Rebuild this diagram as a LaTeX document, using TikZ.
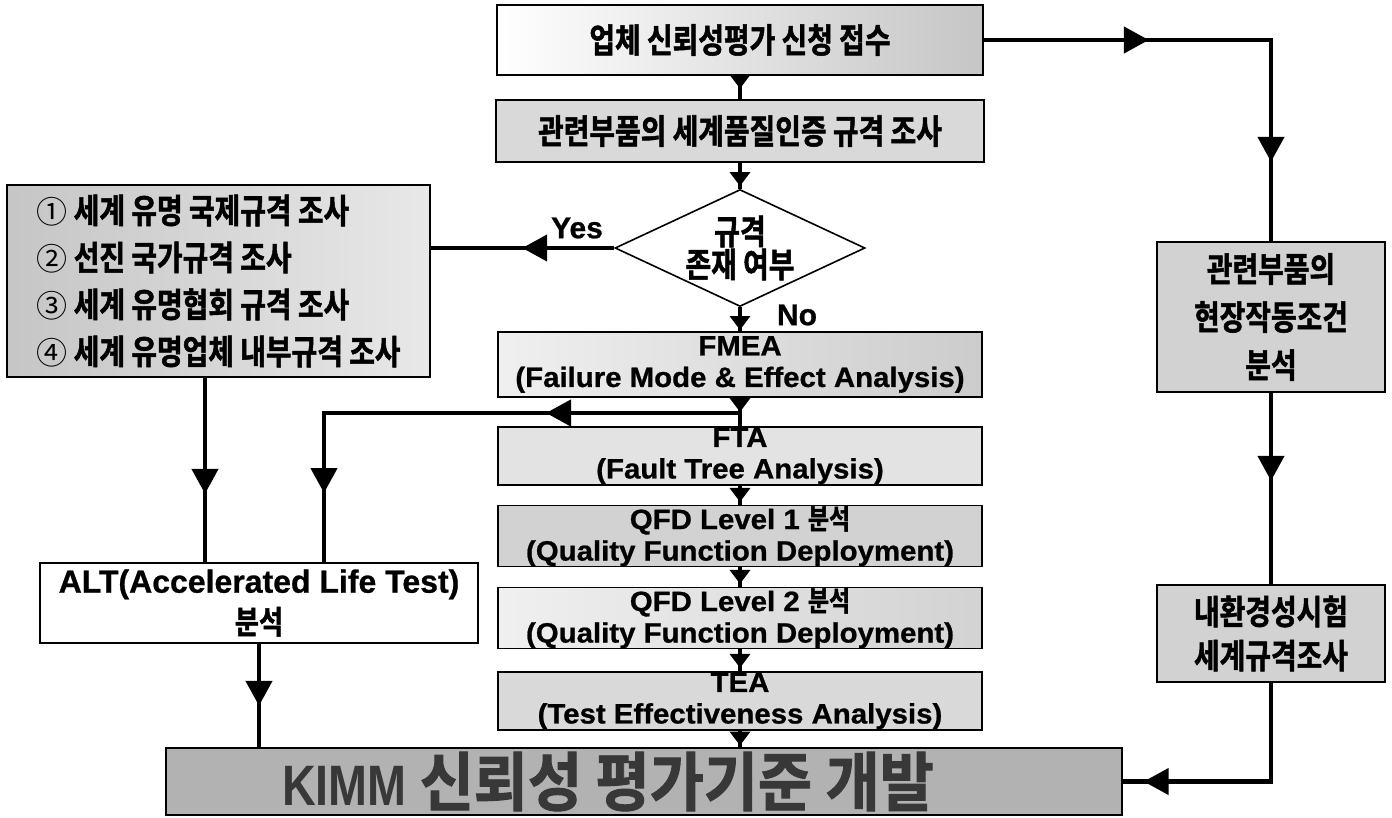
\documentclass[tikz,border=0pt]{standalone}
\usepackage{fontspec}
\setmainfont{Liberation Sans}[BoldFeatures={FakeBold=0.8}]
\newfontfamily\enbox{Liberation Sans}[FakeStretch=1.05,BoldFeatures={FakeBold=0.8}]
\newfontfamily\kr{Noto Sans CJK KR Bold}[FakeStretch=0.82,FakeBold=1.5]
\newfontfamily\krbig{Noto Sans CJK KR Bold}[FakeStretch=0.92,FakeBold=1.5]
\newfontfamily\krnum{Noto Sans CJK KR}
\newfontfamily\kimmfont{Liberation Sans}[FakeStretch=0.82]
\usetikzlibrary{shapes.geometric}
\usetikzlibrary{decorations.markings, arrows.meta}
\tikzset{
	box/.style={draw, line width=1.6pt, inner sep=0pt, align=center},
	dia/.style={shape=diamond, draw, line width=1.6pt, fill=white, inner sep=0pt,
			minimum width=250pt, minimum height=117pt},
	krtxt/.style={font=\kr\fontsize{34}{36}\selectfont},
	entxt/.style={font=\enbox\bfseries\fontsize{28}{31.5}\selectfont},
	flow/.style={line width=4.5pt},
	smalltip/.style={postaction={decorate},
			decoration={markings, mark=at position #1 with {\arrow{Triangle[width=20pt,length=14pt]}}}},
	bigtip/.style={postaction={decorate},
			decoration={markings, mark=at position #1 with {\arrow{Triangle[width=26pt,length=25pt]}}}},
	bigtips/.style 2 args={postaction={decorate},
			decoration={markings,
					mark=at position #1 with {\arrow{Triangle[width=26pt,length=25pt]}},
					mark=at position #2 with {\arrow{Triangle[width=26pt,length=25pt]}}}}
}
\newcommand{\ko}[1]{{\kr\mdseries #1}}
\newcommand{\num}[1]{{\krnum\fontsize{31}{31}\selectfont #1}}

\begin{document}
\begin{tikzpicture}[x=1pt,y=-1pt]
	\useasboundingbox (0,0) rectangle (1392,817);
	% central column
	\node[box,krtxt,minimum width=486pt,minimum height=70pt,left color=white,right color=gray!45] (t1) at (740,40) {업체 신뢰성평가 신청 접수};
	\node[box,krtxt,minimum width=488pt,minimum height=62pt,fill=gray!30] (t2) at (740,131) {관련부품의 세계품질인증 규격 조사};
	\node[dia,label={[align=center,font=\kr\fontsize{34}{33}\selectfont]center:규격\\존재 여부}] (q) at (740,248) {};
	\node[box,entxt,minimum width=484pt,minimum height=65pt,left color=gray!12,right color=gray!40] (fmea) at (740,364.5) {FMEA\\(Failure Mode \& Effect Analysis)};
	\node[box,entxt,minimum width=484pt,minimum height=58pt,fill=gray!22] (fta) at (740,456) {FTA\\(Fault Tree Analysis)};
	\node[box,entxt,minimum width=484pt,minimum height=60pt,fill=gray!35] (qfd1) at (740,536) {QFD Level 1 \ko{분석}\\(Quality Function Deployment)};
	\node[box,entxt,minimum width=484pt,minimum height=60pt,left color=gray!12,right color=gray!35] (qfd2) at (740,618) {QFD Level 2 \ko{분석}\\(Quality Function Deployment)};
	\node[box,entxt,minimum width=484pt,minimum height=58pt,fill=gray!30] (tea) at (740,701) {TEA\\(Test Effectiveness Analysis)};
	\node[box,minimum width=956pt,minimum height=67pt,fill=gray!60,
		label={[text=black!78,xshift=-36pt,font=\kimmfont\bfseries\fontsize{57}{57}\selectfont]center:KIMM {\krbig\mdseries\fontsize{64}{64}\selectfont 신뢰성 평가기준 개발}}] (kimm) at (644,781.5) {};
	\node[entxt,font=\bfseries\fontsize{30}{30}\selectfont] (yes) at (577,228) {Yes};
	\node[entxt,font=\bfseries\fontsize{30}{30}\selectfont] (no) at (797,315) {No};

	% left side
	\node[box,minimum width=423pt,minimum height=192pt,left color=gray!45,right color=gray!18,align=left,
		font=\kr\fontsize{34}{47}\selectfont] (lst) at (218.5,281)
		{\num{①} 세계 유명 국제규격 조사\\\num{②} 선진 국가규격 조사\\\num{③} 세계 유명협회 규격 조사\\\num{④} 세계 유명업체 내부규격 조사};
	\node[box,minimum width=438pt,minimum height=80pt,fill=white,font=\bfseries\fontsize{32}{41}\selectfont] (alt) at (259,603)
		{ALT(Accelerated Life Test)\\\ko{분석}};

	% right column
	\node[box,minimum width=228pt,minimum height=150pt,fill=gray!35,font=\kr\fontsize{34}{48}\selectfont] (r1) at (1271,317)
		{관련부품의\\현장작동조건\\분석};
	\node[box,minimum width=228pt,minimum height=97pt,fill=gray!35,font=\kr\fontsize{34}{44}\selectfont] (r2) at (1271,633.5)
		{내환경성시험\\세계규격조사};

	\coordinate (br) at (740,413);
	\coordinate (alt-a) at (205,563);
	\coordinate (alt-b) at (324,563);

	% connectors
	\draw[flow,smalltip=0.55] (t1.south) -- (t2.north);
	\draw[flow,smalltip=0.9] (t2.south) -- (q.north);
	\draw[flow,smalltip=0.95] (q.south) -- (fmea.north);
	\draw[flow,smalltip=0.5] (fmea.south) -- (fta.north);
	\draw[flow,smalltip=0.85] (fta.south) -- (qfd1.north);
	\draw[flow,smalltip=0.85] (qfd1.south) -- (qfd2.north);
	\draw[flow,smalltip=0.85] (qfd2.south) -- (tea.north);
	\draw[flow,smalltip=0.9] (tea.south) -- (tea.south |- kimm.north);
	\draw[flow,bigtip=92pt] (q.west) -- (q.west -| lst.east);
	\draw[flow,bigtip=116pt] (alt-a |- lst.south) -- (alt-a);
	\draw[flow,bigtips={194pt}{496pt}] (br) -| (alt-b);
	\draw[flow,bigtip=62pt] (alt.south) -- (alt.south |- kimm.north);
	\draw[flow,bigtips={165pt}{409pt}] (t1.east) -| (r1.north);
	\draw[flow,bigtip=88pt] (r1.south) -- (r2.north);
	\draw[flow,bigtip=226pt] (r2.south) |- (kimm.east);
\end{tikzpicture}
\end{document}
